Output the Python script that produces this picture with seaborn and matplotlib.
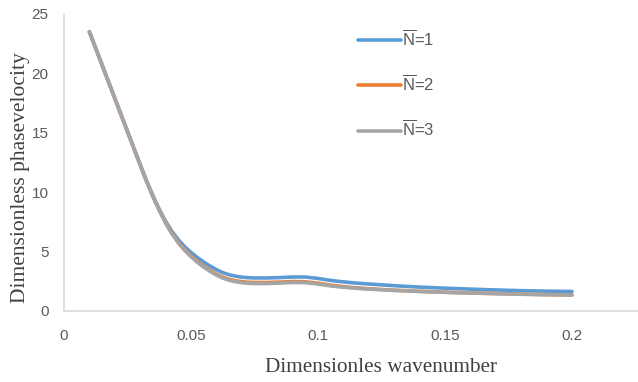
import pandas as pd
import matplotlib
matplotlib.use('Agg')
import matplotlib.pyplot as plt
import seaborn as sns

# Datos
wavenumber = [0.01, 0.015, 0.02, 0.025, 0.03,
              0.0325, 0.035, 0.0375, 0.04, 0.0425, 0.045, 0.0475, 0.05, 0.0525, 0.055,
              0.0575, 0.06, 0.0625, 0.065, 0.0675, 0.07, 0.0725, 0.075,
              0.08, 0.085, 0.09, 0.095, 0.1, 0.105, 0.11, 0.115, 0.12,
              0.13, 0.14, 0.15, 0.16, 0.17, 0.18, 0.19, 0.2]
velocity_n1 = [23.5, 20.7, 17.9, 15.1, 12.3,
               10.95, 9.7, 8.55, 7.55, 6.7, 6.0, 5.42, 4.93, 4.5, 4.12,
               3.78, 3.48, 3.23, 3.05, 2.93, 2.85, 2.8, 2.78,
               2.78, 2.81, 2.86, 2.86, 2.74, 2.57, 2.45, 2.35, 2.27,
               2.13, 2.01, 1.92, 1.84, 1.77, 1.71, 1.67, 1.64]
velocity_n2 = [23.5, 20.7, 17.9, 15.1, 12.3,
               10.93, 9.66, 8.5, 7.45, 6.55, 5.8, 5.18, 4.65, 4.18, 3.77,
               3.42, 3.1, 2.85, 2.67, 2.54, 2.47, 2.42, 2.4,
               2.4, 2.43, 2.48, 2.46, 2.34, 2.17, 2.05, 1.95, 1.87,
               1.75, 1.66, 1.58, 1.52, 1.47, 1.42, 1.38, 1.35]
velocity_n3 = [23.5, 20.7, 17.9, 15.1, 12.3,
               10.92, 9.64, 8.48, 7.4, 6.5, 5.74, 5.1, 4.57, 4.1, 3.69,
               3.34, 3.02, 2.77, 2.59, 2.46, 2.39, 2.33, 2.31,
               2.31, 2.35, 2.4, 2.39, 2.27, 2.11, 2.0, 1.91, 1.84,
               1.73, 1.64, 1.57, 1.51, 1.46, 1.41, 1.37, 1.34]
series_labels = [r'$\overline{\mathrm{N}}$=1', r'$\overline{\mathrm{N}}$=2', r'$\overline{\mathrm{N}}$=3']
series_colors = ['#5b9bd5', '#ed7d31', '#a5a5a5']
x_ticks = [0, 0.05, 0.1, 0.15, 0.2]
x_tick_labels = ['0', '0.05', '0.1', '0.15', '0.2']
y_ticks = [0, 5, 10, 15, 20, 25]

# Tabla en formato largo para seaborn
df = pd.concat([
    pd.DataFrame({'k': wavenumber, 'c': vals, 'serie': lab})
    for vals, lab in zip([velocity_n1, velocity_n2, velocity_n3], series_labels)
], ignore_index=True)

sns.set_style('white')
plt.rcParams['font.family'] = ['Liberation Sans', 'DejaVu Sans']
plt.rcParams['mathtext.fontset'] = 'custom'
plt.rcParams['mathtext.rm'] = 'Liberation Sans'

fig = plt.figure(figsize=(6.38, 3.82), dpi=100)
ax = fig.add_axes([0.1003, 0.1859, 0.9953, 0.7775])

sns.lineplot(data=df, x='k', y='c', hue='serie', palette=series_colors,
             linewidth=2.6, ax=ax, legend=True)

ax.set_xlim(0, 0.25)
ax.set_ylim(0, 25)
ax.set_xticks(x_ticks)
ax.set_xticklabels(x_tick_labels)
ax.set_yticks(y_ticks)
ax.tick_params(axis='both', length=0, labelsize=11, labelcolor='#595959')
ax.tick_params(axis='x', pad=13)
ax.tick_params(axis='y', pad=11)

for side in ['top', 'right']:
    ax.spines[side].set_visible(False)
for side in ['left', 'bottom']:
    ax.spines[side].set_color('#d9d9d9')
    ax.spines[side].set_linewidth(1.2)

ax.set_xlabel('Dimensionles wavenumber', family='Liberation Serif', fontsize=15.3,
              color='#404040', labelpad=11)
ax.set_ylabel('Dimensionless phasevelocity', family='Liberation Serif', fontsize=15.5,
              color='#404040')
ax.yaxis.set_label_coords(-0.053, 0.45)

leg = ax.legend(loc='upper left', bbox_to_anchor=(343 / 638, 1 - 14 / 382),
                bbox_transform=fig.transFigure, frameon=False, fontsize=12,
                handlelength=2.6, handletextpad=0.05, labelspacing=1.5)
for text in leg.get_texts():
    text.set_color('#595959')

fig.savefig('out.png', dpi=100)
